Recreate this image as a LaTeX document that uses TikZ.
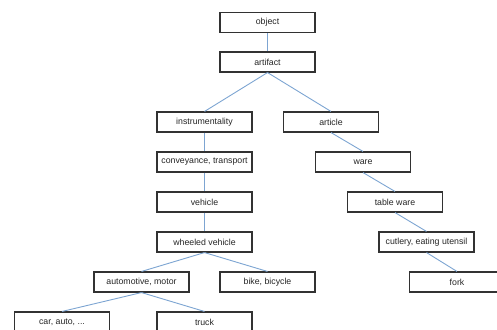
\documentclass[tikz,border=0pt]{standalone}
\usepackage{fontspec}
\setmainfont{Liberation Sans}
\definecolor{edgeblue}{RGB}{125,165,210}
\definecolor{boxgray}{RGB}{50,50,50}
\begin{document}
\begin{tikzpicture}[x=1bp,y=-1bp,
  box/.style={draw=boxgray,line width=1.1bp,fill=white,minimum width=95bp,minimum height=20bp,inner sep=0pt,font=\fontsize{8.8}{10}\selectfont,text=black!85},
  link/.style={draw=edgeblue,line width=0.9bp}]
\useasboundingbox (0,0) rectangle (497,329);
\node[box] (object) at (267.5,22.5) {object};
\node[box] (artifact) at (267.5,62) {artifact};
\node[box] (instr) at (204.5,122) {instrumentality};
\node[box] (article) at (331,122) {article};
\node[box] (convey) at (204.5,162) {conveyance, transport};
\node[box] (ware) at (363,162) {ware};
\node[box] (vehicle) at (204.5,202) {vehicle};
\node[box] (table) at (395,202) {table ware};
\node[box] (wheeled) at (204.5,242) {wheeled vehicle};
\node[box] (cutlery) at (426.5,242) {cutlery, eating utensil};
\node[box] (auto) at (141.5,282) {automotive, motor};
\node[box] (bike) at (267.5,282) {bike, bicycle};
\node[box] (fork) at (457,282) {fork};
\node[box] (car) at (62,322) {car, auto, ...};
\node[box] (truck) at (204.5,322) {truck};
\draw[link] (object.south) -- (artifact.north);
\draw[link] (artifact.south) -- (instr.north);
\draw[link] (artifact.south) -- (article.north);
\draw[link] (instr.south) -- (convey.north);
\draw[link] (article.south) -- (ware.north);
\draw[link] (convey.south) -- (vehicle.north);
\draw[link] (ware.south) -- (table.north);
\draw[link] (vehicle.south) -- (wheeled.north);
\draw[link] (table.south) -- (cutlery.north);
\draw[link] (wheeled.south) -- (auto.north);
\draw[link] (wheeled.south) -- (bike.north);
\draw[link] (cutlery.south) -- (fork.north);
\draw[link] (auto.south) -- (car.north);
\draw[link] (auto.south) -- (truck.north);
\end{tikzpicture}
\end{document}
